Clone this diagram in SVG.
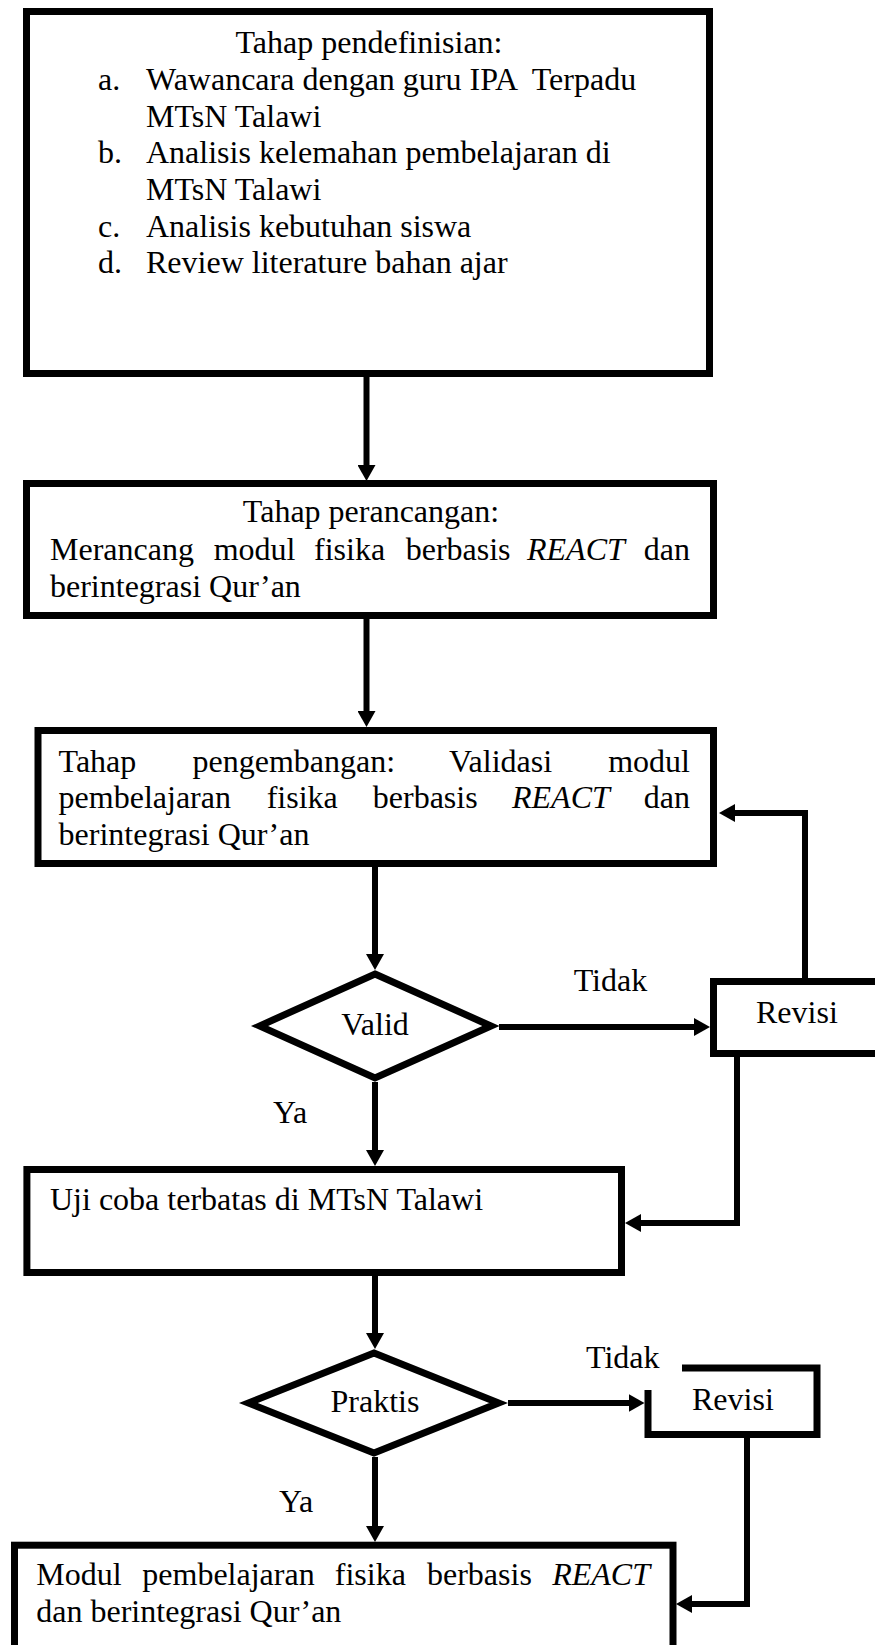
<svg xmlns="http://www.w3.org/2000/svg" width="875" height="1645" viewBox="0 0 875 1645">
<style>
text{font-family:"Liberation Serif","Times New Roman",serif;font-size:32px;fill:#000}
.it{font-style:italic}
.box{fill:#fff;stroke:#000;stroke-width:7;stroke-linejoin:miter}
.con{fill:none;stroke:#000;stroke-width:6;stroke-linejoin:miter}
.mid{text-anchor:middle}
.end{text-anchor:end}
</style>
<defs>
<marker id="ah" markerUnits="userSpaceOnUse" markerWidth="16" markerHeight="18" viewBox="0 0 16 18" refX="6" refY="9" orient="auto">
<path d="M0,0 L16,9 L0,18 z" fill="#000"/>
</marker>
</defs>
<rect width="875" height="1645" fill="#fff"/>
<g id="connectors">
<path class="con" d="M366.5,377 V471" marker-end="url(#ah)"/>
<path class="con" d="M366.5,619 V717" marker-end="url(#ah)"/>
<path class="con" d="M375,867 V960" marker-end="url(#ah)"/>
<path class="con" d="M499,1027 H700" marker-end="url(#ah)"/>
<path class="con" d="M805,978 V813 H729" marker-end="url(#ah)"/>
<path class="con" d="M737,1057 V1223 H635" marker-end="url(#ah)"/>
<path class="con" d="M375,1082 V1156" marker-end="url(#ah)"/>
<path class="con" d="M375,1276 V1339" marker-end="url(#ah)"/>
<path class="con" d="M508,1403 H634.5" marker-end="url(#ah)"/>
<path class="con" d="M747,1437 V1604 H686" marker-end="url(#ah)"/>
<path class="con" d="M375,1457 V1532" marker-end="url(#ah)"/>
</g>
<g id="define">
<rect class="box" x="26.5" y="11.5" width="683" height="362"/>
<text class="mid" x="369" y="53">Tahap pendefinisian:</text>
<text x="98" y="90">a.</text>
<text x="146" y="90" xml:space="preserve">Wawancara dengan guru IPA  Terpadu</text>
<text x="146" y="127">MTsN Talawi</text>
<text x="98" y="163">b.</text>
<text x="146" y="163">Analisis kelemahan pembelajaran di</text>
<text x="146" y="200">MTsN Talawi</text>
<text x="98" y="237">c.</text>
<text x="146" y="237">Analisis kebutuhan siswa</text>
<text x="98" y="273">d.</text>
<text x="146" y="273">Review literature bahan ajar</text>
</g>
<g id="design">
<rect class="box" x="26.5" y="483.5" width="687" height="132"/>
<text class="mid" x="371" y="521.7">Tahap perancangan:</text>
<text x="50" y="560">Merancang</text>
<text x="213.7" y="560">modul</text>
<text x="314" y="560">fisika</text>
<text x="405.7" y="560">berbasis</text>
<text class="it" x="527" y="560">REACT</text>
<text class="end" x="690" y="560">dan</text>
<text x="50" y="596.7">berintegrasi Qur’an</text>
</g>
<g id="develop">
<rect class="box" x="38" y="730.5" width="675.5" height="133"/>
<text x="58.6" y="771.7">Tahap</text>
<text x="192.5" y="771.7">pengembangan:</text>
<text x="449" y="771.7">Validasi</text>
<text class="end" x="690" y="771.7">modul</text>
<text x="58.6" y="808">pembelajaran</text>
<text x="266.7" y="808">fisika</text>
<text x="372.8" y="808">berbasis</text>
<text class="it" x="512" y="808">REACT</text>
<text class="end" x="690" y="808">dan</text>
<text x="58.6" y="845">berintegrasi Qur’an</text>
</g>
<g id="valid">
<polygon class="box" points="375,974 491,1026 375,1078 259.5,1026"/>
<text class="mid" x="375" y="1035">Valid</text>
</g>
<g id="revisi1">
<rect class="box" x="713.5" y="981.5" width="200" height="72"/>
<text x="756" y="1023">Revisi</text>
</g>
<g id="labels1">
<text x="573.7" y="990.7">Tidak</text>
<text x="273" y="1123">Ya</text>
</g>
<g id="uji">
<rect class="box" x="26.9" y="1169.5" width="594.6" height="103"/>
<text x="50" y="1210">Uji coba terbatas di MTsN Talawi</text>
</g>
<g id="praktis">
<polygon class="box" points="374,1353 498.6,1403 374,1453 248.4,1403"/>
<text class="mid" x="375" y="1411.7">Praktis</text>
</g>
<g id="revisi2">
<path class="box" d="M682,1368 H817 V1434.5 H648 V1390" fill="none"/>
<text x="692" y="1410">Revisi</text>
</g>
<g id="labels2">
<text x="586" y="1368">Tidak</text>
<text x="279" y="1511.7">Ya</text>
</g>
<g id="final">
<rect class="box" x="14.5" y="1545.2" width="658.5" height="130"/>
<text x="36.3" y="1585">Modul</text>
<text x="142.3" y="1585">pembelajaran</text>
<text x="334.8" y="1585">fisika</text>
<text x="427" y="1585">berbasis</text>
<text class="it end" x="650" y="1585">REACT</text>
<text x="36.3" y="1621.7">dan berintegrasi Qur’an</text>
</g>
</svg>
